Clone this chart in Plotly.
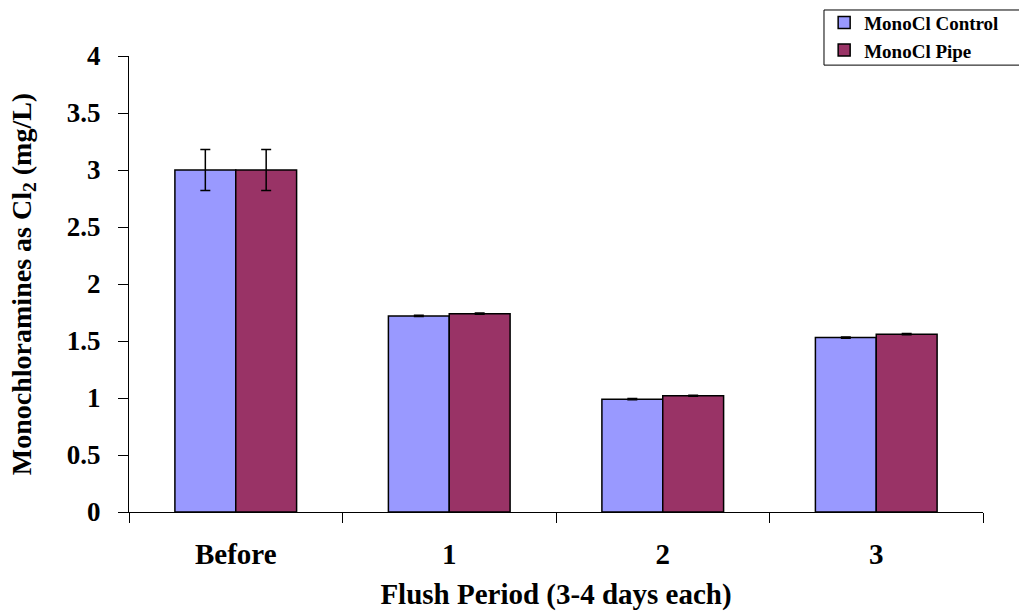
import plotly.graph_objects as go

categories = ["Before", "1", "2", "3"]
control_vals = [3.0, 1.72, 0.99, 1.53]
control_err = [0.18, 0.005, 0.005, 0.005]
pipe_vals = [3.0, 1.74, 1.02, 1.56]
pipe_err = [0.18, 0.005, 0.005, 0.005]
y_ticks = [0, 0.5, 1, 1.5, 2, 2.5, 3, 3.5, 4]
y_tick_text = ["0", "0.5", "1", "1.5", "2", "2.5", "3", "3.5", "4"]

FONT = "Liberation Serif"

fig = go.Figure()
fig.add_trace(go.Bar(
    name="<b>MonoCl Control</b>", x=categories, y=control_vals,
    marker=dict(color="#9999FF", line=dict(color="black", width=1.5)),
    error_y=dict(type="data", array=control_err, color="black", thickness=1.5, width=5),
))
fig.add_trace(go.Bar(
    name="<b>MonoCl Pipe</b>", x=categories, y=pipe_vals,
    marker=dict(color="#993366", line=dict(color="black", width=1.5)),
    error_y=dict(type="data", array=pipe_err, color="black", thickness=1.5, width=5),
))

# legend frame, running off the right edge of the page
fig.add_shape(
    type="rect", xref="paper", yref="paper",
    x0=0.8138, x1=1.06, y0=0.980, y1=1.1009,
    line=dict(color="black", width=1), fillcolor="white", layer="below",
)

fig.update_layout(
    width=1019, height=611,
    margin=dict(l=129, r=36, t=56, b=99, autoexpand=False),
    paper_bgcolor="white", plot_bgcolor="white",
    barmode="group", bargap=0.43, bargroupgap=0,
    font=dict(family=FONT, color="black"),
    showlegend=True,
    legend=dict(
        x=0.814, y=1.115, xanchor="left", yanchor="top",
        bgcolor="rgba(0,0,0,0)", borderwidth=0,
        font=dict(family=FONT, size=19, color="black"),
        traceorder="normal", itemwidth=30, tracegroupgap=0,
    ),
    xaxis=dict(
        showline=True, linecolor="black", linewidth=1,
        ticks="outside", tickson="boundaries", ticklen=10, tickcolor="black",
        tickfont=dict(family=FONT, size=29, color="black"),
        tickprefix="<b>", ticksuffix="</b>", ticklabelstandoff=16,
        title=dict(text="<b>Flush Period (3-4 days each)</b>",
                   font=dict(family=FONT, size=29, color="black"), standoff=14),
        showgrid=False,
    ),
    yaxis=dict(
        range=[0, 4], tickvals=y_ticks, ticktext=[f"<b>{t}</b>" for t in y_tick_text],
        showline=True, linecolor="black", linewidth=1,
        ticks="outside", ticklen=10, tickcolor="black", ticklabelstandoff=12,
        tickfont=dict(family=FONT, size=27, color="black"),
        title=dict(text="<b>Monochloramines as Cl<sub>2</sub> (mg/L)</b>",
                   font=dict(family=FONT, size=28, color="black"), standoff=27),
        showgrid=False, zeroline=False,
    ),
)

fig.write_html("out.html")
